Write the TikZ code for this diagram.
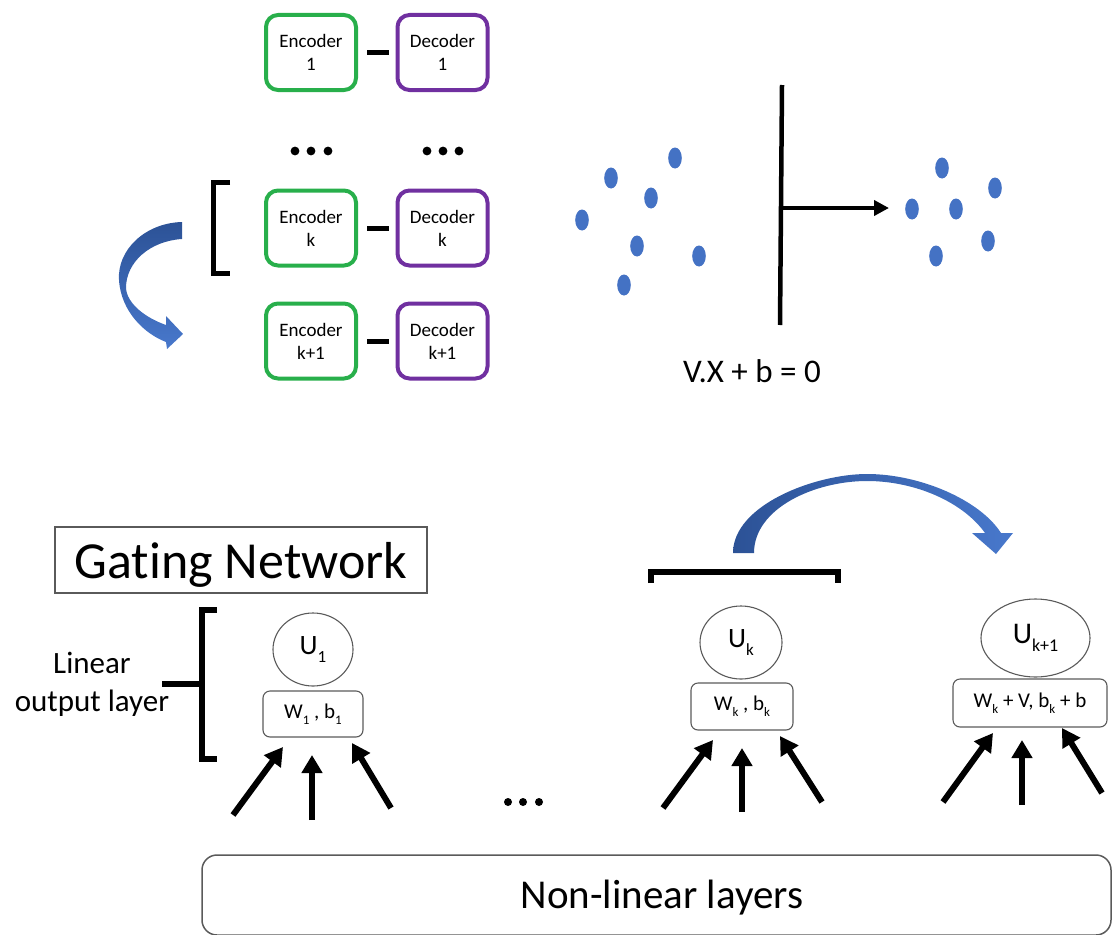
\documentclass[tikz,border=0pt]{standalone}
\usepackage{fontspec}
\setmainfont{Carlito}[Ligatures=NoCommon]
\usetikzlibrary{shapes.geometric,arrows.meta,calc}
\definecolor{encgreen}{RGB}{40,175,75}
\definecolor{decpurple}{RGB}{112,48,160}
\definecolor{dotblue}{RGB}{68,114,196}
\definecolor{arrowdark}{RGB}{44,82,150}
\definecolor{arrowlight}{RGB}{72,120,204}
\definecolor{thingray}{RGB}{90,90,90}
\newcommand{\subs}[2]{\raisebox{-0.28em}{\fontsize{#1}{#1}\selectfont #2}}
\tikzset{
  encbox/.style={draw=encgreen, line width=4pt, rounded corners=12pt, minimum width=90pt, minimum height=75pt, align=center, inner sep=0pt, font=\fontsize{19}{23}\selectfont},
  decbox/.style={encbox, draw=decpurple},
  linkbar/.style={line width=5pt, shorten <=9pt, shorten >=7pt},
  bracketline/.style={line width=5.5pt},
  unode/.style={ellipse, draw=thingray, line width=1.1pt, inner sep=0pt, font=\fontsize{28}{30}\selectfont},
  wbox/.style={draw=thingray, line width=1.1pt, rounded corners=7pt, inner sep=0pt, font=\fontsize{21}{24}\selectfont},
  inarrow/.style={line width=6pt, -{Triangle[length=18pt,width=20pt]}},
  scat/.style={fill=dotblue},
}
\begin{document}
\begin{tikzpicture}[x=1pt,y=-1pt]
\useasboundingbox (0,0) rectangle (1113,934);

% ---- encoder / decoder pairs
\node[encbox] (e1) at (311,52.5) {Encoder\\1};
\node[decbox] (d1) at (442.5,52.5) {Decoder\\1};
\node[encbox] (ek) at (311,228) {Encoder\\k};
\node[decbox] (dk) at (442.5,228) {Decoder\\k};
\node[encbox] (ek1) at (311,341) {Encoder\\k+1};
\node[decbox] (dk1) at (442.5,341) {Decoder\\k+1};
\draw[linkbar] (e1) -- (d1);
\draw[linkbar] (ek) -- (dk);
\draw[linkbar] (ek1) -- (dk1);

% dots
\foreach \x in {295,311,328,427,443,459} \fill (\x,151) circle (4.4pt);

% bracket left of encoder k
\draw[line width=5pt] (230,182) -- (213,182) -- (213,273) -- (230,273);

% left curved block arrow
\shade[top color=arrowdark, bottom color=arrowlight]
  (182,222) .. controls (145,223) and (117,250) .. (119,280)
  .. controls (121,312) and (145,334) .. (166,342) -- (167,349) -- (183,334) -- (166,316) -- (166,325)
  .. controls (146,318) and (127,304) .. (126,288)
  .. controls (126,262) and (150,241) .. (182,239) -- cycle;

% ---- scatter / hyperplane
\foreach \x/\y in {675/158,611/178,651/198,582/220,637/246,699/256,624/285,
                   942/168,995/188,912/209,956/209,988/241,936/256}
  \fill[scat] (\x,\y) ellipse [x radius=6.8pt, y radius=10.5pt];
\coordinate (vtop) at (782,85);
\coordinate (vbot) at (780,325);
\draw[line width=4.5pt] (vtop) -- (vbot);
\coordinate (hp) at (780,208);
\coordinate (ht) at (889,208);
\draw[line width=4pt, -{Triangle[length=15pt,width=15pt]}] (hp) -- (ht);
\node[anchor=base, font=\fontsize{33}{36}\selectfont] (vx) at (752,382) {V.X + b = 0};

% ---- gating network
\node[draw=thingray, line width=1.5pt, minimum width=372pt, minimum height=66pt, inner sep=0pt, text depth=0pt,
      font=\fontsize{52}{56}\selectfont] (gate) at (241,560) {Gating Network};

\node[anchor=base, font=\fontsize{31}{34}\selectfont] (lin1) at (92,673) {Linear};
\node[anchor=base, font=\fontsize{31}{34}\selectfont] (lin2) at (92,711) {output layer};
\draw[bracketline] (217,610) -- (202,610) -- (202,759) -- (217,759);
\draw[bracketline] (162,684) -- (202,684);

% unit 1
\node[unode, minimum width=80pt, minimum height=73pt] (u1) at (313,649.5) {U\subs{17}{1}};
\node[wbox, minimum width=100pt, minimum height=46pt] (w1) at (313,714) {W\subs{13}{1} , b\subs{13}{1}};
\coordinate (a1s) at (233,815); \coordinate (a1t) at (283,747);
\coordinate (a2s) at (312,820); \coordinate (a2t) at (312,755);
\coordinate (a3s) at (391,808); \coordinate (a3t) at (352,743);
\draw[inarrow] (a1s) -- (a1t);
\draw[inarrow] (a2s) -- (a2t);
\draw[inarrow] (a3s) -- (a3t);

% middle dots
\foreach \x in {508,523,539} \fill (\x,802) circle (4pt);

% unit k
\draw[bracketline] (651,583) -- (651,572) -- (838,572) -- (838,583);
\node[unode, minimum width=82pt, minimum height=73pt] (uk) at (741,642.5) {U\subs{17}{k}};
\node[wbox, minimum width=102pt, minimum height=47pt] (wk) at (742,706.5) {W\subs{13}{k} , b\subs{13}{k}};
\coordinate (b1s) at (663,808); \coordinate (b1t) at (713,740);
\coordinate (b2s) at (742,812); \coordinate (b2t) at (742,748);
\coordinate (b3s) at (822,802); \coordinate (b3t) at (780,736);
\draw[inarrow] (b1s) -- (b1t);
\draw[inarrow] (b2s) -- (b2t);
\draw[inarrow] (b3s) -- (b3t);

% top curved block arrow
\shade[left color=arrowdark, right color=arrowlight]
  (733,553) .. controls (733,505) and (815,474) .. (867,474)
  .. controls (920,474) and (980,500) .. (1001,533)
  -- (1013,533) -- (996,554) -- (972,533) -- (985,533)
  .. controls (963,502) and (915,481) .. (867,481)
  .. controls (815,481) and (754,508) .. (754,553) -- cycle;

% unit k+1
\node[unode, minimum width=109pt, minimum height=78pt, font=\fontsize{30}{32}\selectfont] (uk1) at (1035.5,638) {U\subs{18}{k+1}};
\node[wbox, minimum width=154pt, minimum height=48pt] (wk1) at (1030,703) {W\subs{13}{k} + V, b\subs{13}{k} + b};
\coordinate (c1s) at (943,802); \coordinate (c1t) at (993,733);
\coordinate (c2s) at (1022,805); \coordinate (c2t) at (1022,740);
\coordinate (c3s) at (1102,793); \coordinate (c3t) at (1062,728);
\draw[inarrow] (c1s) -- (c1t);
\draw[inarrow] (c2s) -- (c2t);
\draw[inarrow] (c3s) -- (c3t);

% non-linear layers
\node[draw=thingray, line width=1.5pt, rounded corners=15pt, minimum width=909pt, minimum height=80pt, inner sep=0pt] (nl) at (656.5,895) {};
\node[anchor=base, font=\fontsize{41}{44}\selectfont] (nltext) at (662,908) {Non-linear layers};
\end{tikzpicture}
\end{document}
